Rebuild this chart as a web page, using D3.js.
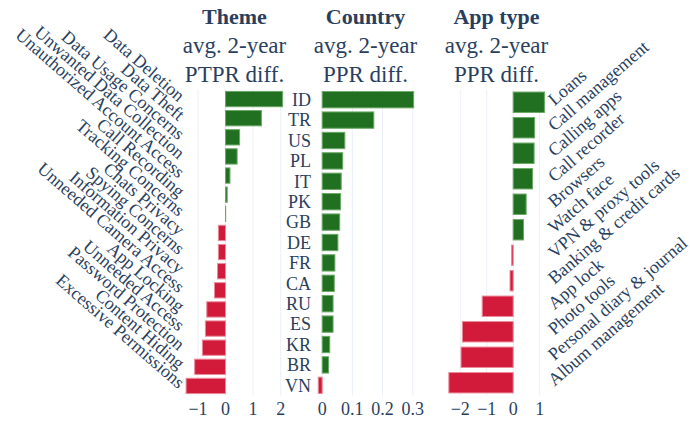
<!doctype html>
<head>
  <script src="https://cdn.jsdelivr.net/npm/d3@7"></script>
  <style>
    body { margin: 0; background: #fff; }
    text { font-family: "Liberation Serif", "Times New Roman", serif; fill: #2a3f5f; }
  </style>
</head>
<body>
<div id="viz"></div>
<script>

var themes = ['Data Deletion', 'Data Theft', 'Data Usage Concerns', 'Unwanted Data Collection',
  'Unauthorized Account Access', 'Call Recording', 'Tracking Concerns', 'Chats Privacy',
  'Spying Concerns', 'Information Privacy', 'Unneeded Camera Access', 'App Locking',
  'Unneeded Access', 'Password Protection', 'Content Hiding', 'Excessive Permissions']
var themeValues = [2.07, 1.30, 0.51, 0.42, 0.16, 0.06, 0.005, -0.26, -0.26, -0.29, -0.40,
  -0.68, -0.73, -0.84, -1.12, -1.43]
var themeTicks = [-1, 0, 1, 2]

var countries = ['ID', 'TR', 'US', 'PL', 'IT', 'PK', 'GB', 'DE', 'FR', 'CA', 'RU', 'ES', 'KR', 'BR', 'VN']
var countryValues = [0.303, 0.171, 0.075, 0.068, 0.063, 0.061, 0.058, 0.052, 0.042, 0.040,
  0.036, 0.036, 0.025, 0.021, -0.013]
var countryTicks = [0, 0.1, 0.2, 0.3]

var appTypes = ['Loans', 'Call management', 'Calling apps', 'Call recorder', 'Browsers',
  'Watch face', 'VPN & proxy tools', 'Banking & credit cards', 'App lock', 'Photo tools',
  'Personal diary & journal', 'Album management']
var appValues = [1.18, 0.81, 0.79, 0.73, 0.49, 0.39, -0.06, -0.12, -1.17, -1.92, -1.97, -2.43]
var appTicks = [-2, -1, 0, 1]

var panels = [
  { title: 'Theme', sub: ['avg. 2-year', 'PTPR diff.'], cats: themes, vals: themeValues,
    ticks: themeTicks, domain: [-1.47, 2.12], x0: 185, labels: 'rotLeft' },
  { title: 'Country', sub: ['avg. 2-year', 'PPR diff.'], cats: countries, vals: countryValues,
    ticks: countryTicks, domain: [-0.0205, 0.3075], x0: 316, labels: 'left' },
  { title: 'App type', sub: ['avg. 2-year', 'PPR diff.'], cats: appTypes, vals: appValues,
    ticks: appTicks, domain: [-2.5, 1.24], x0: 447, labels: 'rotRight' }
]

var W = 690, H = 423
var plotW = 99, plotTop = 89.5, plotBottom = 395.5
var angle = 41

var svg = d3.select('#viz').append('svg')
  .attr('width', W)
  .attr('height', H)

var fmt = function(v) { return String(v).replace('-', '\u2212') }

panels.forEach(function(p) {
  var x = d3.scaleLinear().domain(p.domain).range([p.x0, p.x0 + plotW])
  var y = d3.scaleBand().domain(p.cats).range([plotTop, plotBottom]).paddingInner(0.2).paddingOuter(0.1)
  var g = svg.append('g')
  var cx = p.x0 + plotW / 2

  // grid
  g.selectAll('.grid')
    .data(p.ticks)
    .enter()
    .append('line')
    .attr('x1', function(d) { return x(d) })
    .attr('x2', function(d) { return x(d) })
    .attr('y1', plotTop)
    .attr('y2', plotBottom)
    .style('stroke', '#ebf0f8')
    .style('stroke-width', 1)

  // bars
  g.selectAll('.bar')
    .data(p.vals)
    .enter()
    .append('rect')
    .attr('x', function(d) { return x(Math.min(0, d)) })
    .attr('width', function(d) { return Math.abs(x(d) - x(0)) })
    .attr('y', function(d, i) { return y(p.cats[i]) })
    .attr('height', y.bandwidth())
    .style('fill', function(d) { return d >= 0 ? '#217021' : '#d21a3a' })
    .style('stroke', function(d) { return d >= 0 ? '#6aa865' : '#ec8a9a' })
    .style('stroke-width', 1)

  // x tick labels
  g.selectAll('.tick')
    .data(p.ticks)
    .enter()
    .append('text')
    .attr('x', function(d) { return x(d) })
    .attr('y', 415)
    .attr('text-anchor', 'middle')
    .style('font-size', '18px')
    .text(fmt)

  // category labels
  var lab = g.selectAll('.cat')
    .data(p.cats)
    .enter()
    .append('text')
    .style('font-size', '18px')
    .text(function(d) { return d })
  if (p.labels == 'left') {
    lab.attr('x', p.x0 - 5)
      .attr('y', function(d) { return y(d) + y.bandwidth() / 2 })
      .attr('dy', '0.35em')
      .attr('text-anchor', 'end')
  } else if (p.labels == 'rotLeft') {
    lab.attr('text-anchor', 'end')
      .attr('dy', '0.25em')
      .attr('transform', function(d) {
        return 'translate(' + (p.x0 - 4) + ',' + (y(d) + y.bandwidth() / 2) + ') rotate(' + angle + ')'
      })
  } else {
    lab.attr('text-anchor', 'start')
      .attr('dy', '0.3em')
      .attr('transform', function(d) {
        return 'translate(' + (p.x0 + plotW + 5) + ',' + (y(d) + y.bandwidth() / 2) + ') rotate(' + (-angle) + ')'
      })
  }

  // titles
  g.append('text')
    .attr('x', cx).attr('y', 24)
    .attr('text-anchor', 'middle')
    .style('font-size', '22px')
    .style('font-weight', 'bold')
    .text(p.title)
  g.selectAll('.sub')
    .data(p.sub)
    .enter()
    .append('text')
    .attr('x', cx)
    .attr('y', function(d, i) { return 53 + i * 29 })
    .attr('text-anchor', 'middle')
    .style('font-size', '23px')
    .text(function(d) { return d })
})

</script>
</body>
